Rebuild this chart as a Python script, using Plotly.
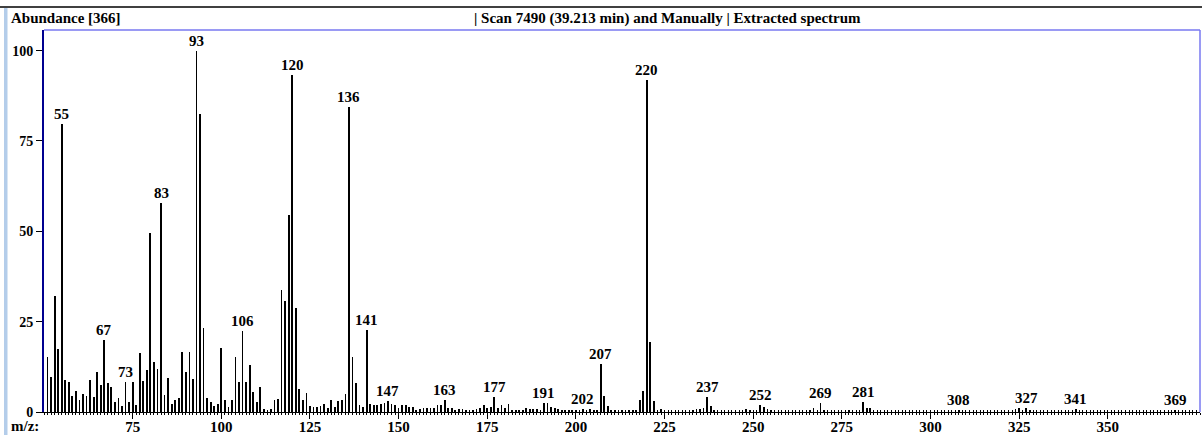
import plotly.graph_objects as go

# ---- data ----
mz = list(range(51, 225)) + [233, 234, 235, 236, 237, 238, 239, 248, 249, 252, 253, 254, 255, 256,
                             266, 267, 269, 270, 277, 280, 281, 282, 283, 308, 324, 325, 327, 328,
                             331, 341, 342, 369]
abundance = [
    15.2, 9.6, 32.0, 17.5, 79.7, 8.8, 8.3, 4.3, 5.7, 3.2,        # 51-60
    5.1, 4.3, 8.8, 4.1, 11.0, 7.5, 19.8, 8.0, 6.9, 2.7,          # 61-70
    4.0, 1.6, 8.3, 2.9, 8.3, 2.0, 16.3, 8.7, 11.5, 49.5,         # 71-80
    13.7, 11.9, 57.8, 4.8, 9.4, 2.3, 3.2, 4.0, 16.5, 11.0,       # 81-90
    16.7, 9.1, 100.0, 82.5, 23.3, 4.0, 2.9, 1.6, 2.3, 17.7,      # 91-100
    3.2, 1.3, 3.2, 15.2, 8.3, 22.4, 8.3, 13.1, 5.6, 2.9,         # 101-110
    6.9, 0.9, 0.6, 0.9, 3.2, 3.7, 33.8, 30.6, 54.6, 93.3,        # 111-120
    28.8, 6.4, 3.2, 5.3, 1.6, 1.3, 1.3, 1.6, 2.3, 1.1,           # 121-130
    3.3, 1.5, 3.0, 3.3, 5.0, 84.5, 15.1, 7.9, 1.8, 1.3,          # 131-140
    22.7, 2.2, 1.8, 1.9, 2.2, 2.4, 3.1, 2.1, 1.9, 1.2,           # 141-150
    1.9, 1.9, 1.3, 1.5, 0.6, 0.7, 1.0, 1.2, 1.0, 1.2,            # 151-160
    1.8, 1.8, 3.3, 1.2, 1.0, 0.6, 0.8, 0.8, 0.6, 0.6,            # 161-170
    0.6, 0.7, 1.2, 1.9, 1.2, 1.5, 4.1, 1.2, 1.9, 1.0,            # 171-180
    2.2, 0.6, 0.6, 0.4, 0.4, 1.0, 0.8, 0.8, 0.7, 0.6,            # 181-190
    2.6, 2.6, 1.5, 1.1, 0.9, 0.6, 0.6, 0.6, 0.4, 0.4,            # 191-200
    0.6, 0.9, 0.4, 0.9, 0.4, 0.4, 13.3, 4.4, 1.7, 0.6,           # 201-210
    0.5, 0.5, 0.5, 0.5, 0.5, 0.5, 0.6, 3.3, 5.8, 92.0,           # 211-220
    19.5, 3.1, 0.6, 0.7,                                          # 221-224
    0.6, 0.8, 0.8, 1.0, 4.1, 1.7, 0.5, 0.9, 0.5, 1.8, 1.5, 0.9, 0.6, 0.4,
    0.5, 1.0, 2.6, 0.4, 0.6, 0.5, 2.8, 1.0, 1.0, 0.6, 0.8, 1.0, 1.1, 0.5,
    0.5, 0.7, 0.4, 0.5,
]
labeled_mz = [55, 67, 73, 83, 93, 106, 120, 136, 141, 147, 163, 177, 191, 202,
              207, 220, 237, 252, 269, 281, 308, 327, 341, 369]
y_ticks = [0, 25, 50, 75, 100]
x_ticks = [75, 100, 125, 150, 175, 200, 225, 250, 275, 300, 325, 350]

header_left = "Abundance [366]"
header_mid = "| Scan 7490 (39.213 min) and Manually | Extracted spectrum"
x_axis_title = "m/z:"

# ---- layout geometry (pixels) ----
W, H = 1202, 435
L, R, T, B = 44, 2, 30, 23
plot_w = W - L - R
plot_h = H - T - B


def px_x(p):
    return (p - L) / plot_w


def px_y(p):
    return (H - B - p) / plot_h


FONT = "Liberation Serif"
bold = dict(family=FONT, size=15, color="black", weight="bold")

fig = go.Figure()
fig.add_trace(go.Bar(
    x=mz, y=abundance, width=0.22,
    marker=dict(color="black", line=dict(width=0)),
    hoverinfo="x+y", showlegend=False,
))

lookup = dict(zip(mz, abundance))
annotations = []
for m in labeled_mz:
    annotations.append(dict(
        x=m, y=lookup[m], xref="x", yref="y", text=str(m), showarrow=False,
        yanchor="bottom", xanchor="center", yshift=0, font=bold,
    ))

annotations += [
    dict(x=px_x(9), y=px_y(18), xref="paper", yref="paper", text=header_left,
         showarrow=False, xanchor="left", yanchor="middle", font=bold),
    dict(x=px_x(472), y=px_y(18), xref="paper", yref="paper", text=header_mid,
         showarrow=False, xanchor="left", yanchor="middle", font=bold),
    dict(x=px_x(9), y=px_y(426), xref="paper", yref="paper", text=x_axis_title,
         showarrow=False, xanchor="left", yanchor="middle", font=bold),
]

shapes = [
    # top black rule
    dict(type="line", xref="paper", yref="paper", x0=px_x(0), x1=px_x(W), y0=px_y(7), y1=px_y(7),
         line=dict(color="black", width=1.5)),
    # left light-blue strip
    dict(type="rect", xref="paper", yref="paper", x0=px_x(4), x1=px_x(7.5), y0=px_y(8), y1=px_y(H),
         fillcolor="#b4cdea", line=dict(width=0)),
    # plot frame: top and right in blue
    dict(type="line", xref="paper", yref="paper", x0=0, x1=1, y0=1, y1=1,
         line=dict(color="#7878f0", width=1.5)),
    dict(type="line", xref="paper", yref="paper", x0=1, x1=1, y0=0, y1=1,
         line=dict(color="#7878f0", width=1.5)),
]

fig.update_layout(
    width=W, height=H,
    margin=dict(l=L, r=R, t=T, b=B, pad=0, autoexpand=False),
    paper_bgcolor="white", plot_bgcolor="white",
    bargap=0,
    showlegend=False,
    annotations=annotations,
    shapes=shapes,
    # main x axis: labels + the upper half of each crossing tick
    xaxis=dict(
        range=[50, 376], tickmode="array", tickvals=x_ticks,
        ticks="inside", ticklen=2, tickwidth=1, tickcolor="black",
        minor=dict(ticks="inside", dtick=1, tick0=0, ticklen=2, tickwidth=1, tickcolor="black",
                   showgrid=False),
        showline=True, linecolor="black", linewidth=1,
        showgrid=False, zeroline=False, automargin=False,
        ticklabelstandoff=1,
        tickfont=dict(family=FONT, size=15, color="black", weight="bold"),
        fixedrange=True,
    ),
    # overlay x axis: the lower half of the ticks, longer at labelled values
    xaxis2=dict(
        range=[50, 376], overlaying="x", anchor="y", side="bottom",
        tickmode="array", tickvals=x_ticks, ticks="outside", ticklen=6, tickwidth=1,
        tickcolor="black",
        minor=dict(ticks="outside", dtick=1, tick0=0, ticklen=2, tickwidth=1, tickcolor="black",
                   showgrid=False),
        showticklabels=False, showgrid=False, showline=False,
        zeroline=False, fixedrange=True, automargin=False,
    ),
    yaxis=dict(
        range=[0, 105.7], tickmode="array", tickvals=y_ticks,
        ticks="outside", ticklen=6, tickwidth=1, tickcolor="black",
        showline=True, linecolor="#000090", linewidth=2,
        showgrid=False, zeroline=False, automargin=False,
        tickfont=dict(family=FONT, size=14, color="black", weight="bold"),
        fixedrange=True,
    ),
)

# invisible trace to activate the overlay axis
fig.add_trace(go.Scatter(x=[50, 376], y=[0, 0], xaxis="x2", yaxis="y", mode="lines",
                         line=dict(width=0), hoverinfo="skip", showlegend=False))

fig.write_html("out.html")
